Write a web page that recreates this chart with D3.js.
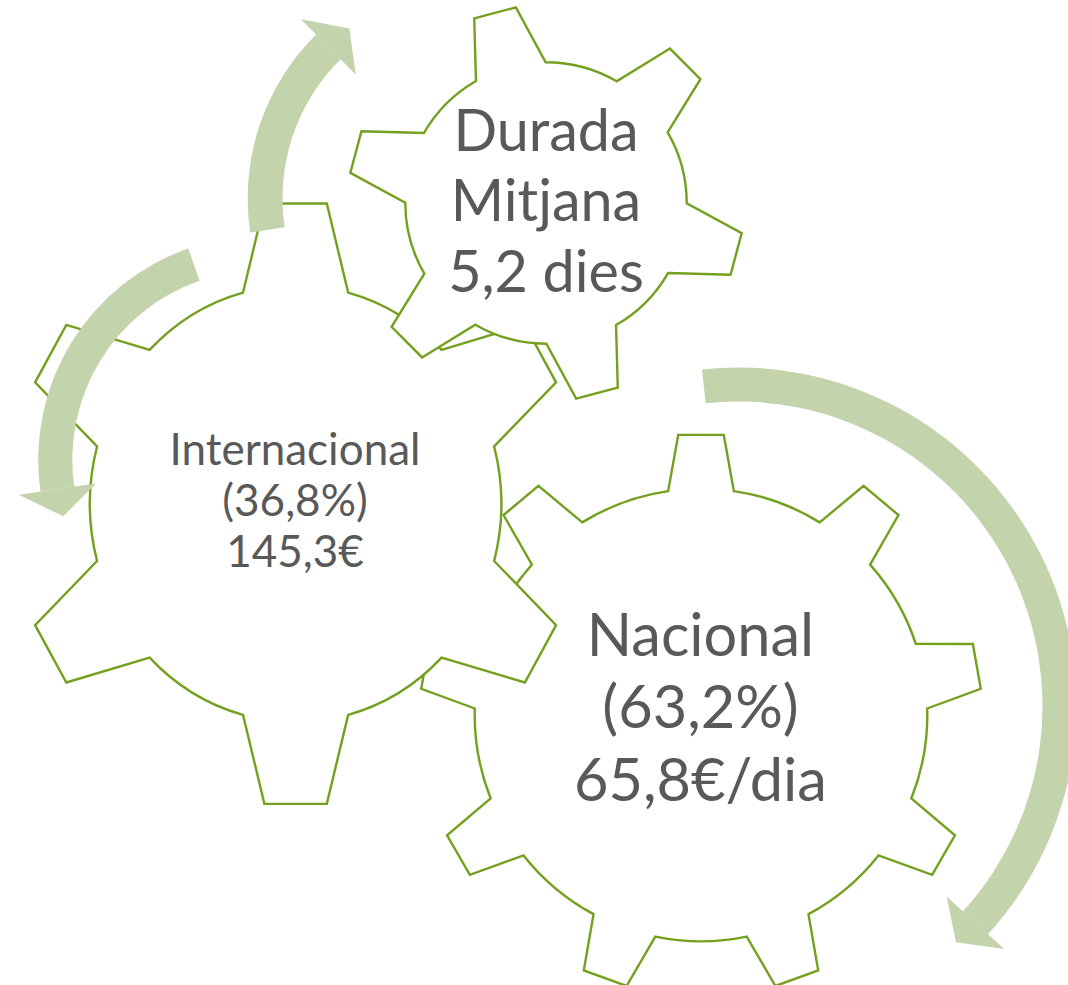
<!DOCTYPE html>
<html>
<head>
<meta charset="utf-8">
<script src="https://cdn.jsdelivr.net/npm/d3@7"></script>
<style>
  html, body { margin: 0; padding: 0; background: #fff; }
  svg { display: block; }
  text { font-family: Lato, "Open Sans", sans-serif; fill: #595959; }
</style>
</head>
<body>
<svg id="chart" width="1068" height="985"></svg>
<script>
// data
const segments = ["Nacional", "Internacional"];
const shares = [63.2, 36.8];          // % de turistes
const spending = [65.8, 145.3];       // despesa
const spendingUnit = ["€/dia", "€"];
const stayLabel = ["Durada", "Mitjana"];
const stayDays = 5.2;

const ca = d3.formatLocale({decimal: ",", thousands: ".", grouping: [3], currency: ["", "€"]});
const f1 = ca.format(".1f");

const svg = d3.select("#chart");
const rad = Math.PI / 180;

function gearPath(n, rIn, rOut, baseHalf, tipHalf, rot) {
  const p = d3.path();
  const step = 360 / n;
  for (let i = 0; i < n; i++) {
    const a = rot + i * step;
    const b0 = (a - baseHalf) * rad, t0 = (a - tipHalf) * rad,
          t1 = (a + tipHalf) * rad, b1 = (a + baseHalf) * rad;
    if (i === 0) p.moveTo(rIn * Math.cos(b0), rIn * Math.sin(b0));
    p.lineTo(rOut * Math.cos(t0), rOut * Math.sin(t0));
    p.lineTo(rOut * Math.cos(t1), rOut * Math.sin(t1));
    p.lineTo(rIn * Math.cos(b1), rIn * Math.sin(b1));
    p.arc(0, 0, rIn, b1, (a + step - baseHalf) * rad);
  }
  p.closePath();
  return p.toString();
}

// drawn back to front
const gears = [
  {cx: 701, cy: 715, n: 9, rIn: 226.3, rOut: 281, base: 8.35, tip: 4.65, rot: -90, sx: 1,
   tx: 700.5, y0: 655.6, lh: 72.7, fs: 59.5,
   lines: [segments[0], "(" + f1(shares[0]) + "%)", f1(spending[0]) + spendingUnit[0]]},
  {cx: 295.6, cy: 503.7, n: 6, rIn: 218.4, rOut: 302, base: 14.8, tip: 6.3, rot: -90, sx: 0.942,
   tx: 295, y0: 465, lh: 51, fs: 44,
   lines: [segments[1], "(" + f1(shares[1]) + "%)", f1(spending[1]) + spendingUnit[1]]},
  {cx: 546, cy: 203, n: 6, rIn: 140.7, rOut: 198, base: 14.85, tip: 6.25, rot: -105, sx: 1,
   tx: 546, y0: 151, lh: 70.3, fs: 57.5,
   lines: [stayLabel[0], stayLabel[1], f1(stayDays) + " dies"]}
];

gears.forEach(g => {
  svg.append("path")
    .attr("transform", `translate(${g.cx},${g.cy}) scale(${g.sx},1)`)
    .attr("d", gearPath(g.n, g.rIn, g.rOut, g.base, g.tip, g.rot))
    .attr("fill", "#fff")
    .attr("stroke", "#74A01F")
    .attr("stroke-width", 2.4)
    .attr("vector-effect", "non-scaling-stroke")
    .attr("stroke-linejoin", "miter");

  svg.append("text")
    .attr("text-anchor", "middle")
    .attr("font-size", g.fs)
    .selectAll("tspan")
    .data(g.lines)
    .join("tspan")
    .attr("x", g.tx)
    .attr("y", (d, i) => g.y0 + i * g.lh)
    .text(d => d);
});

// circular arrows (angles in degrees, 0 = east, clockwise)
const arrows = [
  {cx: 478.3, cy: 198.4, rIn: 195.8, rOut: 230.6, from: 171.5, to: 225.3, tip: 232.8, ext: 21.5},
  {cx: 261.9, cy: 459.7, rIn: 189.6, rOut: 223.7, from: 250.8, to: 171.8, tip: 164.1, ext: 22},
  {cx: 738, cy: 706, rIn: 304.5, rOut: 338.5, from: -96.1, to: 42.4, tip: 47.3, ext: 22}
];

const ring = d3.arc();
arrows.forEach(a => {
  const g = svg.append("g").attr("transform", `translate(${a.cx},${a.cy})`);
  const s = (a.from + 90) * rad, e = (a.to + 90) * rad;
  g.append("path")
    .attr("d", ring({innerRadius: a.rIn, outerRadius: a.rOut,
                     startAngle: Math.min(s, e), endAngle: Math.max(s, e)}))
    .attr("fill", "#C3D3AC");
  const pt = (r, ang) => [r * Math.cos(ang * rad), r * Math.sin(ang * rad)];
  const head = [pt(a.rIn - a.ext, a.to), pt(a.rOut + a.ext, a.to), pt((a.rIn + a.rOut) / 2, a.tip)];
  g.append("path")
    .attr("d", d3.line()(head) + "Z")
    .attr("fill", "#C3D3AC");
});
</script>
</body>
</html>
